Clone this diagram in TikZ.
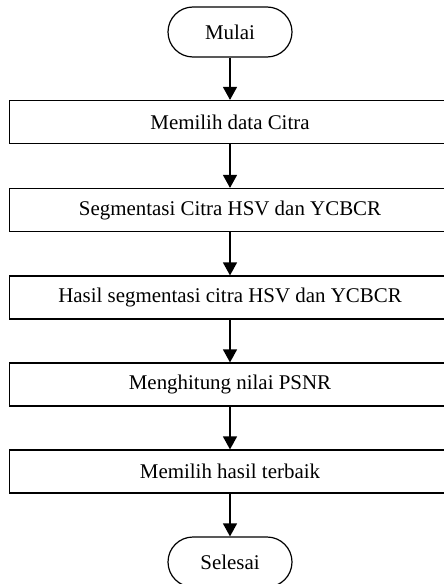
\documentclass[tikz,border=0pt]{standalone}
\usepackage{fontspec}
\setmainfont{Liberation Serif}
\usetikzlibrary{arrows.meta}
\begin{document}
\begin{tikzpicture}[x=1bp,y=-1bp,
  txt/.style={font=\fontsize{21}{25}\selectfont},
  procbox/.style={txt,draw,line width=1.2bp,minimum width=441bp,minimum height=43bp,inner sep=0pt},
  termbox/.style={txt,draw,line width=1.2bp,rounded corners=25bp,minimum width=124bp,minimum height=50bp,inner sep=0pt},
  flow/.style={line width=1.3bp,-{Triangle[length=13bp,width=14bp]}}]
\useasboundingbox (0,0) rectangle (444,584);
\node[termbox] (start) at (230,32) {Mulai};
\node[procbox] (b1) at (230,122) {Memilih data Citra};
\node[procbox] (b2) at (230,210) {Segmentasi Citra HSV dan YCBCR};
\node[procbox] (b3) at (230,297.5) {Hasil segmentasi citra HSV dan YCBCR};
\node[procbox] (b4) at (230,384.5) {Menghitung nilai PSNR};
\node[procbox] (b5) at (230,471.5) {Memilih hasil terbaik};
\node[termbox] (end) at (230,562) {Selesai};
\draw[flow] (start) -- (b1);
\draw[flow] (b1) -- (b2);
\draw[flow] (b2) -- (b3);
\draw[flow] (b3) -- (b4);
\draw[flow] (b4) -- (b5);
\draw[flow] (b5) -- (end);
\end{tikzpicture}
\end{document}
